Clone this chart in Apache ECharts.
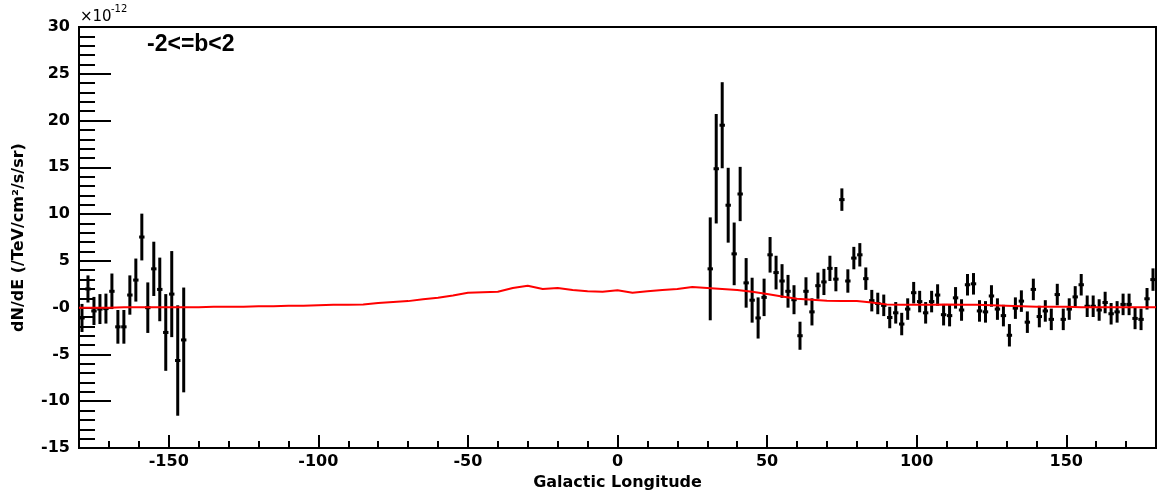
<!DOCTYPE html>
<html lang="en">
<head>
    <meta charset="UTF-8">
    <title>dN/dE vs Galactic Longitude</title>
    <script type="text/javascript" src="https://cdn.jsdelivr.net/npm/echarts@6/dist/echarts.min.js"></script>
    <style>
        html, body { margin: 0; padding: 0; background: #fff; }
        #chart { width: 1159px; height: 497px; }
    </style>
</head>
<body>
    <div id="chart"></div>
    <script>
        // flux values are in units of 1e-12 /TeV/cm2/s/sr
        var leftLon  = [-179, -177, -175, -173, -171, -169, -167, -165, -163, -161, -159, -157, -155, -153, -151, -149, -147, -145];
        var leftFlux = [-1.1, 2.0, -0.35, -0.15, -0.1, 1.75, -2.05, -2.05, 1.35, 2.95, 7.55, 0.0, 4.15, 1.95, -2.65, 1.45, -5.65, -3.45];
        var leftErr  = [1.5, 1.45, 1.5, 1.6, 1.6, 1.9, 1.8, 1.8, 2.1, 2.3, 2.5, 2.7, 2.9, 3.4, 4.1, 4.6, 5.9, 5.6];

        var rightLon = [31, 33, 35, 37, 39, 41, 43, 45, 47, 49, 51, 53, 55, 57, 59, 61, 63, 65, 67, 69,
                        71, 73, 75, 77, 79, 81, 83, 85, 87, 89, 91, 93, 95, 97, 99, 101, 103, 105, 107, 109,
                        111, 113, 115, 117, 119, 121, 123, 125, 127, 129, 131, 133, 135, 137, 139, 141, 143, 145, 147, 149,
                        151, 153, 155, 157, 159, 161, 163, 165, 167, 169, 171, 173, 175, 177, 179];
        var rightFlux = [4.15, 14.85, 19.5, 10.95, 5.75, 12.15, 2.65, 0.8, -1.1, 1.1, 5.65, 3.75, 2.85, 1.75, 0.85, -3.0, 1.75, -0.45, 2.35, 2.75,
                         4.2, 3.05, 11.55, 2.85, 5.3, 5.65, 3.1, 0.75, 0.45, 0.25, -1.05, -0.55, -1.75, -0.15, 1.6, 0.65, -0.55, 0.65, 1.35, -0.75,
                         -0.85, 1.05, -0.25, 2.45, 2.55, -0.35, -0.45, 1.25, -0.15, -0.85, -2.95, -0.05, 0.7, -1.55, 1.95, -0.95, -0.35, -1.25, 1.4, -1.25,
                         -0.15, 1.15, 2.45, 0.15, 0.15, -0.25, 0.55, -0.65, -0.45, 0.35, 0.35, -1.15, -1.25, 0.95, 3.0];
        var rightErr = [5.5, 5.85, 4.6, 4.0, 3.35, 2.9, 2.65, 2.4, 2.2, 2.0, 1.9, 1.8, 1.8, 1.75, 1.55, 1.5, 1.5, 1.45, 1.4, 1.4,
                        1.35, 1.3, 1.2, 1.25, 1.2, 1.25, 1.2, 1.15, 1.15, 1.15, 1.15, 1.15, 1.2, 1.15, 1.15, 1.15, 1.15, 1.15, 1.15, 1.15,
                        1.15, 1.15, 1.15, 1.15, 1.15, 1.15, 1.15, 1.15, 1.15, 1.15, 1.2, 1.15, 1.15, 1.15, 1.15, 1.15, 1.15, 1.15, 1.15, 1.15,
                        1.15, 1.15, 1.15, 1.15, 1.15, 1.15, 1.15, 1.15, 1.15, 1.15, 1.15, 1.15, 1.15, 1.15, 1.2];

        // red model curve
        var modelLon = [-180, -175, -170, -165, -160, -155, -150, -145, -140, -135, -130, -125, -120, -115, -110, -105, -100, -95, -90, -85,
                        -80, -75, -70, -65, -60, -55, -50, -45, -40, -35, -30, -25, -20, -15, -10, -5, 0, 5, 10, 15,
                        20, 25, 30, 35, 40, 45, 50, 55, 60, 65, 70, 75, 80, 85, 90, 95, 100, 105, 110, 115,
                        120, 125, 130, 135, 140, 145, 150, 155, 160, 165, 170, 175, 180];
        var modelFlux = [0.0, 0.0, 0.0, 0.05, 0.05, 0.05, 0.05, 0.05, 0.05, 0.1, 0.1, 0.1, 0.15, 0.15, 0.2, 0.2, 0.25, 0.3, 0.3, 0.35,
                         0.5, 0.6, 0.7, 0.9, 1.05, 1.3, 1.6, 1.65, 1.7, 2.1, 2.35, 2.0, 2.1, 1.9, 1.75, 1.7, 1.85, 1.6, 1.75, 1.9,
                         2.0, 2.2, 2.1, 2.0, 1.9, 1.7, 1.45, 1.2, 0.95, 0.85, 0.75, 0.7, 0.7, 0.55, 0.35, 0.3, 0.3, 0.3, 0.35, 0.3,
                         0.3, 0.25, 0.2, 0.15, 0.1, 0.1, 0.1, 0.05, 0.05, 0.05, 0.05, 0.05, 0.05];

        var majorLon = [-150, -100, -50, 0, 50, 100, 150];

        var tickFont = { color: '#000', fontSize: 16, fontWeight: 'bold', fontFamily: 'DejaVu Sans' };

        function errSeries(lon, flux, err) {
            var data = [];
            for (var i = 0; i < lon.length; i++) data.push([lon[i], flux[i], err[i]]);
            return {
                type: 'custom',
                data: data,
                z: 3,
                encode: { x: 0, y: 1 },
                renderItem: function (params, api) {
                    var x = api.value(0), y = api.value(1), e = api.value(2);
                    var top = api.coord([x, y + e]);
                    var bot = api.coord([x, y - e]);
                    var l = api.coord([x - 0.9, y]);
                    var r = api.coord([x + 0.9, y]);
                    var st = { stroke: '#000', lineWidth: 3 };
                    return {
                        type: 'group',
                        children: [
                            { type: 'line', shape: { x1: top[0], y1: top[1], x2: bot[0], y2: bot[1] }, style: st },
                            { type: 'line', shape: { x1: l[0], y1: l[1], x2: r[0], y2: r[1] }, style: st }
                        ]
                    };
                }
            };
        }

        var chart = echarts.init(document.getElementById('chart'));
        var modelData = [];
        for (var i = 0; i < modelLon.length; i++) modelData.push([modelLon[i], modelFlux[i]]);

        chart.setOption({
            animation: false,
            backgroundColor: '#fff',
            grid: { left: 79, right: 2, top: 27, bottom: 49, show: true, borderColor: '#000', borderWidth: 2 },
            xAxis: [{
                type: 'value', min: -180, max: 180, interval: 10, position: 'bottom',
                axisLine: { show: true, onZero: false, lineStyle: { color: '#000', width: 2 } },
                axisTick: { inside: true, length: 7, lineStyle: { color: '#000', width: 2 } },
                axisLabel: Object.assign({ margin: 6, formatter: function (v) { return v % 50 === 0 ? String(v) : ''; } }, tickFont),
                splitLine: { show: false },
                name: 'Galactic Longitude', nameLocation: 'middle', nameGap: 24,
                nameTextStyle: { color: '#000', fontSize: 16, fontWeight: 'bold', fontFamily: 'DejaVu Sans' }
            }, {
                type: 'value', min: -180, max: 180, position: 'bottom', offset: 0,
                axisLine: { show: false, onZero: false },
                axisTick: { show: true, inside: true, length: 13, customValues: majorLon, lineStyle: { color: '#000', width: 2 } },
                axisLabel: { show: false },
                splitLine: { show: false }
            }],
            yAxis: {
                type: 'value', min: -15, max: 30, interval: 5,
                axisLine: { show: true, onZero: false, lineStyle: { color: '#000', width: 2 } },
                axisTick: { inside: true, length: 32, lineStyle: { color: '#000', width: 2 } },
                minorTick: { show: true, splitNumber: 5, length: 16, lineStyle: { color: '#000', width: 2 } },
                splitLine: { show: false },
                axisLabel: Object.assign({ margin: 9, formatter: function (v) { return v === 0 ? '-0' : String(v); } }, tickFont),
                name: 'dN/dE (/TeV/cm²/s/sr)', nameLocation: 'middle', nameGap: 52,
                nameTextStyle: { color: '#000', fontSize: 16, fontWeight: 'bold', fontFamily: 'DejaVu Sans' }
            },
            graphic: [
                { type: 'text', left: 147, top: 33, style: { text: '-2<=b<2', fill: '#000', font: 'bold 23px "Liberation Sans"' } },
                { type: 'text', left: 80, top: 10, style: { text: '×10', fill: '#000', font: '15px "DejaVu Sans"' } },
                { type: 'text', left: 111, top: 4, style: { text: '-12', fill: '#000', font: '10px "DejaVu Sans"' } }
            ],
            series: [
                errSeries(leftLon, leftFlux, leftErr),
                errSeries(rightLon, rightFlux, rightErr),
                {
                    type: 'line', data: modelData, symbol: 'none', z: 4,
                    lineStyle: { color: '#ff0000', width: 2 }
                }
            ]
        });
    </script>
</body>
</html>
